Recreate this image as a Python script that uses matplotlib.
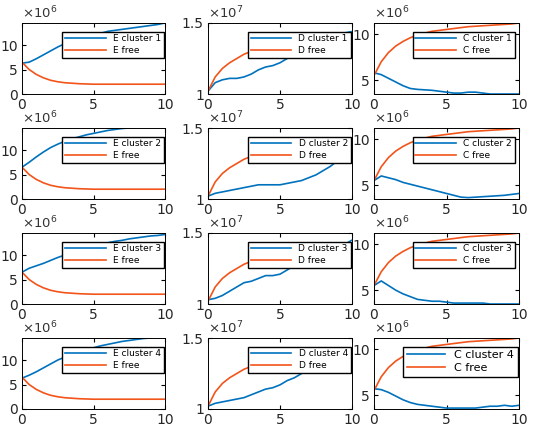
import numpy as np
import matplotlib
matplotlib.use("Agg")
import matplotlib.pyplot as plt
from matplotlib.ticker import FuncFormatter

t = np.linspace(0, 10, 21)
E_free = [6.5,5.0,4.0,3.3,2.8,2.5,2.3,2.2,2.1,2.05,2.0,2.0,2.0,2.0,2.0,2.0,2.0,2.0,2.0,2.0,2.0]
E_cl = [
 [6.3,6.5,7.2,8.0,8.8,9.6,10.3,10.8,11.3,11.7,12.0,12.4,12.8,13.0,13.2,13.4,13.6,13.8,14.0,14.2,14.5],
 [6.5,7.5,8.6,9.6,10.5,11.2,11.8,12.3,12.7,13.1,13.4,13.7,14.0,14.2,14.4,14.5,14.6,14.6,14.6,14.6,14.6],
 [6.5,7.3,7.8,8.3,8.9,9.5,10.0,10.5,11.0,11.4,11.8,12.2,12.5,12.8,13.0,13.3,13.5,13.7,13.9,14.0,14.2],
 [6.3,6.9,7.6,8.4,9.2,10.0,10.6,11.2,11.7,12.1,12.5,12.9,13.2,13.5,13.8,14.0,14.2,14.4,14.5,14.6,14.6]]
D_free = [1.02,1.12,1.18,1.22,1.25,1.28,1.30,1.32,1.34,1.35,1.36,1.37,1.38,1.39,1.40,1.41,1.41,1.42,1.42,1.43,1.43]
D_cl = [
 [1.02,1.08,1.10,1.11,1.11,1.12,1.14,1.17,1.19,1.20,1.22,1.25,1.29,1.32,1.35,1.37,1.38,1.40,1.42,1.43,1.44],
 [1.02,1.04,1.05,1.06,1.07,1.08,1.09,1.10,1.10,1.10,1.10,1.11,1.12,1.13,1.15,1.17,1.20,1.23,1.27,1.32,1.37],
 [1.03,1.04,1.06,1.09,1.12,1.15,1.16,1.18,1.20,1.20,1.21,1.24,1.27,1.30,1.32,1.34,1.36,1.38,1.40,1.42,1.45],
 [1.02,1.04,1.05,1.06,1.07,1.08,1.10,1.12,1.14,1.15,1.17,1.20,1.22,1.25,1.28,1.30,1.32,1.34,1.36,1.38,1.41]]
C_free = [5.5,7.0,8.0,8.7,9.2,9.6,9.9,10.1,10.3,10.4,10.5,10.6,10.7,10.8,10.85,10.9,10.95,11.0,11.05,11.1,11.2]
C_cl = [
 [5.8,5.6,5.2,4.8,4.4,4.1,4.0,3.95,3.9,3.8,3.7,3.6,3.6,3.7,3.7,3.6,3.5,3.5,3.5,3.5,3.5],
 [5.5,6.0,5.8,5.6,5.3,5.1,4.9,4.7,4.5,4.3,4.1,3.9,3.7,3.65,3.7,3.75,3.8,3.85,3.9,4.0,4.1],
 [5.5,6.0,5.5,5.0,4.6,4.3,4.0,3.9,3.8,3.8,3.7,3.6,3.6,3.6,3.6,3.6,3.5,3.5,3.5,3.5,3.5],
 [5.7,5.6,5.3,4.9,4.5,4.2,4.0,3.9,3.8,3.7,3.6,3.6,3.6,3.6,3.6,3.7,3.8,3.8,3.9,3.8,3.9]]
letters = ["E", "D", "C"]
scales = [1e6, 1e7, 1e6]
exps = ["6", "7", "6"]
ylims = [(0, 14.5), (1.0, 1.5), (3.5, 11.2)]
yticks = [[0, 5, 10], [1, 1.5], [5, 10]]
xticks = [0, 5, 10]

blue = (0, 0.447, 0.741)
orange = (0.95, 0.33, 0.1)
W, H = 550, 446
fig = plt.figure(figsize=(W/100, H/100), dpi=100)
lefts = [22, 208, 374]
widths = [143, 144, 145]
tops = [23, 128, 233, 338]
hgt = 71
frees = [E_free, D_free, C_free]
cls = [E_cl, D_cl, C_cl]
for r in range(4):
    for c in range(3):
        ax = fig.add_axes([lefts[c]/W, 1-(tops[r]+hgt)/H, widths[c]/W, hgt/H])
        s = scales[c]
        ax.plot(t, np.array(cls[c][r])*s, color=blue, lw=1.2, label=f"{letters[c]} cluster {r+1}")
        ax.plot(t, np.array(frees[c])*s, color=orange, lw=1.2, label=f"{letters[c]} free")
        ax.set_xlim(0, 10)
        ax.set_ylim(ylims[c][0]*s, ylims[c][1]*s)
        ax.set_xticks(xticks)
        ax.set_yticks([v*s for v in yticks[c]])
        ax.yaxis.set_major_formatter(FuncFormatter(lambda v, p, s=s: f"{v/s:g}"))
        ax.tick_params(labelsize=10, labelcolor="#262626", direction="in", length=3, top=True, right=True, pad=3)
        for sp in ax.spines.values():
            sp.set_linewidth(0.7)
        ax.text(0, 1.02, r"$\times10^{%s}$" % exps[c], transform=ax.transAxes, fontsize=9.5, va="bottom", ha="left", color="#333333")
        fs = 8 if (r == 3 and c == 2) else 6.5
        ax.legend(loc="upper right", fontsize=fs, frameon=True, fancybox=False, edgecolor="black",
                  framealpha=1, borderpad=0.3, handlelength=4.5 if fs < 7 else 3.5, labelspacing=0.3,
                  bbox_to_anchor=(0.99 if c != 2 or r == 3 else 0.97, 0.88), borderaxespad=0)
fig.savefig("out.png", dpi=100)
